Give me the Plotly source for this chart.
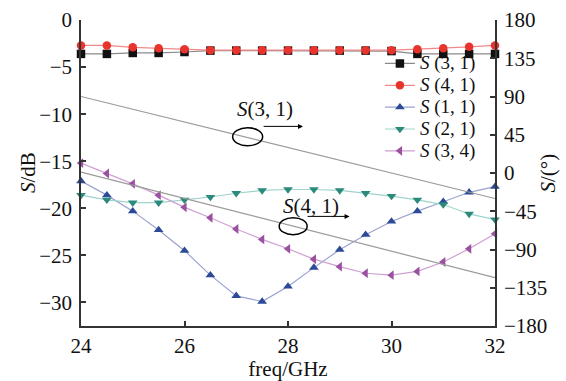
import plotly.graph_objects as go

freq = [24.0, 24.5, 25.0, 25.5, 26.0, 26.5, 27.0, 27.5, 28.0, 28.5,
        29.0, 29.5, 30.0, 30.5, 31.0, 31.5, 32.0]

s31_db = [-3.6, -3.6, -3.5, -3.5, -3.4, -3.25, -3.25, -3.25, -3.25, -3.25,
          -3.25, -3.25, -3.3, -3.6, -3.6, -3.6, -3.6]
s41_db = [-2.7, -2.7, -2.9, -3.0, -3.1, -3.2, -3.2, -3.2, -3.2, -3.2,
          -3.2, -3.2, -3.2, -3.1, -3.0, -2.85, -2.7]
s11_db = [-17.1, -18.6, -20.3, -22.3, -24.5, -27.1, -29.3, -29.9, -28.3, -26.3,
          -24.4, -22.8, -21.4, -20.3, -19.3, -18.3, -17.7]
s21_db = [-18.6, -19.1, -19.4, -19.4, -19.1, -18.8, -18.4, -18.1, -18.0, -18.0,
          -18.1, -18.4, -18.7, -19.1, -19.6, -20.6, -21.2]
s34_db = [-15.2, -16.3, -17.4, -18.6, -19.9, -21.0, -22.2, -23.3, -24.3, -25.4,
          -26.2, -26.9, -27.1, -26.7, -25.7, -24.3, -22.7]

phase_freq = [24, 28, 32]
s31_phase = [90, 30, -30]
s41_phase = [1, -61, -123]

names = ["<i>S</i> (3, 1)", "<i>S</i> (4, 1)", "<i>S</i> (1, 1)", "<i>S</i> (2, 1)", "<i>S</i> (3, 4)"]
series = [s31_db, s41_db, s11_db, s21_db, s34_db]
symbols = ["square", "circle", "triangle-up", "triangle-down", "triangle-left"]
mcolors = ["#111111", "#e8342c", "#2c4a98", "#2a8a7c", "#9a52a0"]
lcolors = ["#8a8a8a", "#f08a88", "#9aa3cf", "#9fd4cc", "#cf9fd3"]

FONT = "Liberation Serif"
FS = 21
LEG_FS = 19

fig = go.Figure()

# phase lines (right axis)
for ph in [s31_phase, s41_phase]:
    fig.add_trace(go.Scatter(x=phase_freq, y=ph, yaxis="y2", mode="lines",
                             line=dict(color="#9a9a9a", width=1.2),
                             showlegend=False, hoverinfo="skip"))

for name, ys, sym, mc, lc in zip(names, series, symbols, mcolors, lcolors):
    fig.add_trace(go.Scatter(x=freq, y=ys,
                             name='<span style="font-size:%dpx">%s</span>' % (LEG_FS, name),
                             mode="lines+markers",
                             line=dict(color=lc, width=1.2),
                             marker=dict(symbol=sym, size=8.5, color=mc),
                             cliponaxis=False))

axis_common = dict(showline=True, linecolor="#333333", linewidth=1.5,
                   ticks="inside", ticklen=5, tickcolor="#333333", tickwidth=1.5,
                   showgrid=False, zeroline=False, automargin=False,
                   tickfont=dict(family=FONT, size=FS, color="#111111"))

fig.update_layout(
    width=566, height=381,
    margin=dict(l=81, r=71, t=20, b=55),
    paper_bgcolor="white", plot_bgcolor="white",
    font=dict(family=FONT, size=FS, color="#111111"),
    xaxis=dict(range=[24, 32], tickvals=[24, 26, 28, 30, 32],
               title=dict(text="freq/GHz", font=dict(family=FONT, size=FS), standoff=6),
               **axis_common),
    yaxis=dict(range=[-32.5, 0], tickvals=[0, -5, -10, -15, -20, -25, -30],
               ticklabelstandoff=3,
               **axis_common),
    yaxis2=dict(range=[-180, 180], overlaying="y", side="right",
                tickvals=[180, 135, 90, 45, 0, -45, -90, -135, -180],
                ticklabelstandoff=3,
                **axis_common),
    legend=dict(x=0.722, y=0.91, xanchor="left", yanchor="top",
                bgcolor="rgba(0,0,0,0)", font=dict(family=FONT, size=14.5),
                tracegroupgap=0),
    showlegend=True,
)

fig.add_annotation(xref="paper", yref="paper", x=-0.128, y=0.5, xanchor="center", yanchor="middle",
                   text="<i>S</i>/dB", textangle=-90, showarrow=False,
                   font=dict(family=FONT, size=FS))
fig.add_annotation(xref="paper", yref="paper", x=1.127, y=0.5, xanchor="center", yanchor="middle",
                   text="<i>S</i>/(°)", textangle=-90, showarrow=False,
                   font=dict(family=FONT, size=FS))

# annotations: ellipses and arrows
fig.add_shape(type="circle", xref="x", yref="y", x0=26.93, x1=27.51, y0=-13.35, y1=-11.45,
              line=dict(color="black", width=1.5))
fig.add_shape(type="circle", xref="x", yref="y", x0=27.83, x1=28.37, y0=-22.8, y1=-21.0,
              line=dict(color="black", width=1.5))
fig.add_annotation(x=28.29, y=-11.3, ax=27.5, ay=-11.3, xref="x", yref="y", axref="x", ayref="y",
                   showarrow=True, arrowhead=2, arrowsize=1, arrowwidth=1, arrowcolor="black", text="")
fig.add_annotation(x=29.19, y=-20.86, ax=28.35, ay=-20.86, xref="x", yref="y", axref="x", ayref="y",
                   showarrow=True, arrowhead=2, arrowsize=1, arrowwidth=1, arrowcolor="black", text="")
fig.add_annotation(x=27.55, y=-9.44, xref="x", yref="y", text="<i>S</i>(3, 1)", showarrow=False,
                   font=dict(family=FONT, size=FS))
fig.add_annotation(x=28.45, y=-19.8, xref="x", yref="y", text="<i>S</i>(4, 1)", showarrow=False,
                   font=dict(family=FONT, size=FS))

fig.write_html("out.html")
